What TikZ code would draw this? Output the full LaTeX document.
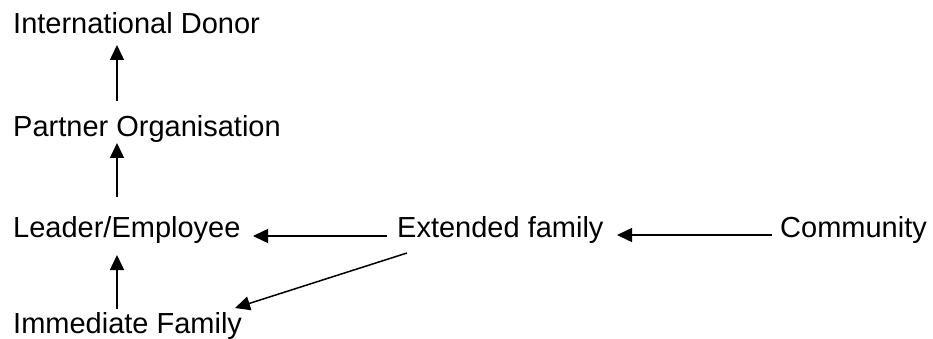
\documentclass[tikz,border=0pt]{standalone}
\usepackage{fontspec}
\setmainfont{Liberation Sans}
\usetikzlibrary{arrows.meta,calc}
\begin{document}
\begin{tikzpicture}[x=1pt,y=-1pt,
  lbl/.style={anchor=base west,inner sep=0pt,font=\fontsize{29}{34}\selectfont},
  arr/.style={-{Triangle[length=15pt,width=14pt]},line width=1.5pt}]
\useasboundingbox (0,0) rectangle (933,339);
\node[lbl] (ID) at (13,34) {International Donor};
\node[lbl] (P) at (13,137) {Partner Organisation};
\node[lbl] (L) at (13,237) {Leader/Employee};
\node[lbl] (IF) at (13,333) {Immediate Family};
\node[lbl] (EF) at (397,237) {Extended family};
\node[lbl] (C) at (780,237) {Community};
\draw[arr] ($(P.base west)+(104,-36)$) -- ($(ID.base west)+(104,11)$);
\draw[arr] ($(L.base west)+(104,-40)$) -- ($(P.base west)+(104,6)$);
\draw[arr] ($(IF.base west)+(104,-24)$) -- ($(L.base west)+(104,18)$);
\draw[arr] ($(EF.base west)+(-10,-1)$) -- ($(L.base west)+(240,-1)$);
\draw[arr] ($(C.base west)+(-8,-2)$) -- ($(EF.base west)+(220,-2)$);
\draw[arr] ($(EF.base west)+(10,16)$) -- ($(IF.base west)+(222,-25)$);
\end{tikzpicture}
\end{document}
